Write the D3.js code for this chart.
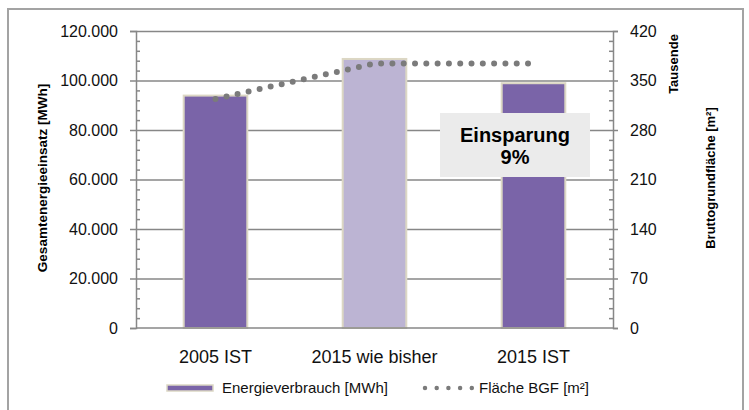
<!DOCTYPE html>
<html><head><meta charset="utf-8">
<script src="https://cdn.jsdelivr.net/npm/d3@7"></script>
<style>
body{margin:0;background:#fff;}
text{font-family:"Liberation Sans",Arial,sans-serif;}
</style></head>
<body><svg id="c" width="749" height="410"></svg>
<script>
const categories = ["2005 IST", "2015 wie bisher", "2015 IST"];
const energy = [93900, 108700, 98900];          // MWh
const area = [324000, 374000, 374000];          // m²
const leftTicks = [0, 20000, 40000, 60000, 80000, 100000, 120000];
const rightTicks = [0, 70, 140, 210, 280, 350, 420]; // Tausende
const barColors = ["#7a64a8", "#bcb4d3", "#7a64a8"];
const seriesNames = ["Energieverbrauch [MWh]", "Fläche BGF [m²]"];

const svg = d3.select("#c");
const L = 136, R = 613, T = 31, B = 328;
const fmt = d3.formatLocale({decimal:",", thousands:".", grouping:[3], currency:["","€"]}).format(",");

// outer frame
svg.append("rect").attr("x",8).attr("y",9).attr("width",735).attr("height",420)
  .attr("fill","none").attr("stroke","#a3a3a3").attr("stroke-width",2);

const x = d3.scaleBand().domain(categories).range([L, R]).paddingInner(0.6).paddingOuter(0.3);
const y = d3.scaleLinear().domain([0, 120000]).range([B, T]);
const y2 = d3.scaleLinear().domain([0, 420000]).range([B, T]);

// gridlines
svg.append("g").attr("transform",`translate(${L},0)`)
  .call(d3.axisLeft(y).tickValues(leftTicks.slice(1)).tickSize(-(R-L)).tickFormat(""))
  .call(g=>g.select(".domain").remove())
  .call(g=>g.selectAll("line").attr("stroke","#878787").attr("stroke-width",1.5));

// bars
svg.append("g").selectAll("rect").data(energy).join("rect")
  .attr("x",(d,i)=>x(categories[i]))
  .attr("y",d=>y(d))
  .attr("width",x.bandwidth())
  .attr("height",d=>B-y(d))
  .attr("fill",(d,i)=>barColors[i])
  .attr("stroke","#dcd7c4").attr("stroke-width",2);

// dotted line
const line = d3.line().x((d,i)=>x(categories[i])+x.bandwidth()/2).y(d=>y2(d));
svg.append("path").datum(area).attr("d",line)
  .attr("fill","none").attr("stroke","#7b7b7b").attr("stroke-width",6)
  .attr("stroke-linecap","round").attr("stroke-dasharray","0 11.3");

// annotation box
svg.append("rect").attr("x",440).attr("y",113).attr("width",150).attr("height",64).attr("fill","#ebebeb");
svg.append("text").attr("x",515).attr("y",142).attr("text-anchor","middle")
  .attr("font-size",20).attr("font-weight","bold").attr("fill","#000").text("Einsparung");
svg.append("text").attr("x",515).attr("y",164).attr("text-anchor","middle")
  .attr("font-size",20).attr("font-weight","bold").attr("fill","#000").text("9%");

// bottom baseline
svg.append("line").attr("x1",L).attr("x2",R).attr("y1",B).attr("y2",B)
  .attr("stroke","#878787").attr("stroke-width",1.5);

// left axis
const minorL = d3.range(0, 120001, 4000).filter(v=>v%20000!==0);
svg.append("g").attr("transform",`translate(${L},0)`)
  .call(d3.axisLeft(y).tickValues(leftTicks).tickSize(6).tickPadding(12).tickFormat(fmt))
  .call(g=>g.select(".domain").attr("stroke","#878787").attr("stroke-width",1.5))
  .call(g=>g.selectAll("line").attr("stroke","#878787").attr("stroke-width",1.5))
  .call(g=>g.selectAll("text").attr("font-size",16).attr("fill","#111").attr("font-family","Liberation Sans, Arial"));
svg.append("g").attr("transform",`translate(${L},0)`)
  .call(d3.axisRight(y).tickValues(minorL).tickSize(4).tickFormat(""))
  .call(g=>g.select(".domain").remove())
  .call(g=>g.selectAll("line").attr("stroke","#878787").attr("stroke-width",1.5));

// right axis
const minorR = d3.range(0, 420001, 14000).filter(v=>v%70000!==0);
svg.append("g").attr("transform",`translate(${R},0)`)
  .call(d3.axisRight(y2).tickValues(rightTicks.map(v=>v*1000)).tickSize(5).tickPadding(12).tickFormat(d=>String(d/1000)))
  .call(g=>g.select(".domain").attr("stroke","#878787").attr("stroke-width",1.5))
  .call(g=>g.selectAll("line").attr("stroke","#878787").attr("stroke-width",1.5))
  .call(g=>g.selectAll("text").attr("font-size",16).attr("fill","#111").attr("font-family","Liberation Sans, Arial"));
svg.append("g").attr("transform",`translate(${R},0)`)
  .call(d3.axisLeft(y2).tickValues(minorR).tickSize(4).tickFormat(""))
  .call(g=>g.select(".domain").remove())
  .call(g=>g.selectAll("line").attr("stroke","#878787").attr("stroke-width",1.5));

// x axis labels
svg.append("g").attr("transform",`translate(0,${B})`)
  .call(d3.axisBottom(x).tickSize(0).tickPadding(22))
  .call(g=>g.select(".domain").remove())
  .call(g=>g.selectAll("text").attr("font-size",18).attr("fill","#111").attr("font-family","Liberation Sans, Arial"));

// axis titles
svg.append("text").attr("transform","translate(47,178) rotate(-90)").attr("text-anchor","middle")
  .attr("font-size",13.5).attr("font-weight","bold").attr("fill","#000").text("Gesamtenergieeinsatz [MWh]");
svg.append("text").attr("transform","translate(678,64) rotate(-90)").attr("text-anchor","middle")
  .attr("font-size",13).attr("font-weight","bold").attr("fill","#000").text("Tausende");
svg.append("text").attr("transform","translate(715,178) rotate(-90)").attr("text-anchor","middle")
  .attr("font-size",13).attr("font-weight","bold").attr("fill","#000").text("Bruttogrundfläche [m²]");

// legend
const lg = svg.append("g");
lg.append("rect").attr("x",167).attr("y",385).attr("width",46).attr("height",6)
  .attr("fill",barColors[0]).attr("stroke","#dcd7c4").attr("stroke-width",1.5);
lg.append("text").attr("x",222).attr("y",393).attr("font-size",15).attr("fill","#111").text(seriesNames[0]);
lg.append("line").attr("x1",425).attr("x2",472).attr("y1",388).attr("y2",388)
  .attr("stroke","#7b7b7b").attr("stroke-width",4.5).attr("stroke-linecap","round").attr("stroke-dasharray","0 11.7");
lg.append("text").attr("x",479).attr("y",393).attr("font-size",15).attr("fill","#111").text(seriesNames[1]);
</script></body></html>
